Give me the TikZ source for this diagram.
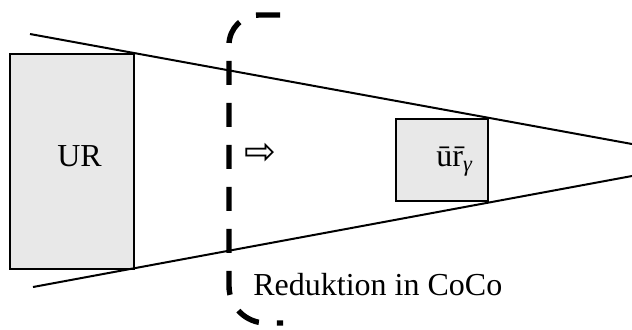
\documentclass[tikz,border=0pt]{standalone}
\usepackage{fontspec}
\setmainfont{Liberation Serif}
\newfontfamily\arrowfont{DejaVu Sans}
\definecolor{boxgray}{HTML}{E8E8E8}
\tikzset{
  urbox/.style={draw=black, line width=1pt, fill=boxgray},
  ray/.style={draw=black, line width=1pt},
  cut/.style={draw=black, line width=2.7pt, dash pattern=on 12pt off 9pt, dash phase=19.5pt},
  lbl/.style={inner sep=0pt, font=\fontsize{16}{19}\selectfont}
}
\begin{document}
\begin{tikzpicture}[x=0.5pt, y=-0.5pt]
\useasboundingbox (0,0) rectangle (632,329);
% boxes
\draw[urbox] (10,54) rectangle (134,269);
\draw[urbox] (396,119) rectangle (488,201);
% rays
\coordinate (u0) at (30,34);
\coordinate (u1) at (632,144);
\coordinate (l0) at (33,287);
\coordinate (l1) at (632,176);
\draw[ray] (u0) -- (u1);
\draw[ray] (l0) -- (l1);
% labels
\node[lbl, anchor=base] (ur) at (79.5,166) {UR};
\node[lbl, anchor=base west] (urg) at (436,166) {\=u\=r\textsubscript{\textit{γ}}};
\node[lbl, anchor=base west] (red) at (253,295) {Reduktion in CoCo};
\node[inner sep=0pt, font=\arrowfont\fontsize{19}{22}\selectfont] (arr) at (260.5,154) {⇨};
% dashed cut line
\draw[cut] (283,15) -- (259,15) arc[start angle=90, end angle=180, radius=15pt]
  -- (229,286) arc[start angle=180, end angle=270, radius=18.5pt] -- (283,323);
\end{tikzpicture}
\end{document}
